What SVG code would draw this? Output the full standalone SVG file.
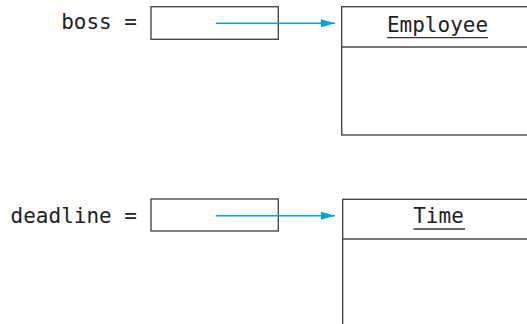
<svg xmlns="http://www.w3.org/2000/svg" width="527" height="324" viewBox="0 0 527 324">
<defs>
<style>
.box{fill:none;stroke:#4a4a4a;stroke-width:1.4}
.lbl{font-family:"DejaVu Sans Mono","Liberation Mono",monospace;font-size:21px;fill:#222}
.ul{stroke:#333;stroke-width:1.3}
.conn{stroke:#00a6e2;stroke-width:1.4;fill:none}
</style>
<marker id="ah" markerWidth="14" markerHeight="8" refX="14" refY="4" orient="auto" markerUnits="userSpaceOnUse">
<path d="M0,0 L14,4 L0,8 Z" fill="#00a6e2"/>
</marker>
</defs>
<g id="var-boss">
<text class="lbl" x="137" y="28.5" text-anchor="end">boss =</text>
<rect class="box" x="151" y="6.7" width="127.3" height="32.6"/>
</g>
<g id="obj-employee">
<rect class="box" x="341.7" y="6.7" width="200" height="128.3"/>
<line class="box" x1="341.7" y1="47" x2="541.7" y2="47"/>
<text class="lbl" x="437.5" y="32.3" text-anchor="middle">Employee</text>
<line class="ul" x1="387" y1="37.7" x2="488" y2="37.7"/>
</g>
<g id="var-deadline">
<text class="lbl" x="137" y="222.5" text-anchor="end">deadline =</text>
<rect class="box" x="151" y="199" width="127.3" height="32"/>
</g>
<g id="obj-time">
<rect class="box" x="342.7" y="199.3" width="200" height="140"/>
<line class="box" x1="342.7" y1="239" x2="542.7" y2="239"/>
<text class="lbl" x="438.5" y="223.3" text-anchor="middle">Time</text>
<line class="ul" x1="413.5" y1="229" x2="465" y2="229"/>
</g>
<g id="connectors">
<line class="conn" x1="216" y1="23.3" x2="335" y2="23.3" marker-end="url(#ah)"/>
<line class="conn" x1="216" y1="215.7" x2="335" y2="215.7" marker-end="url(#ah)"/>
</g>
</svg>
